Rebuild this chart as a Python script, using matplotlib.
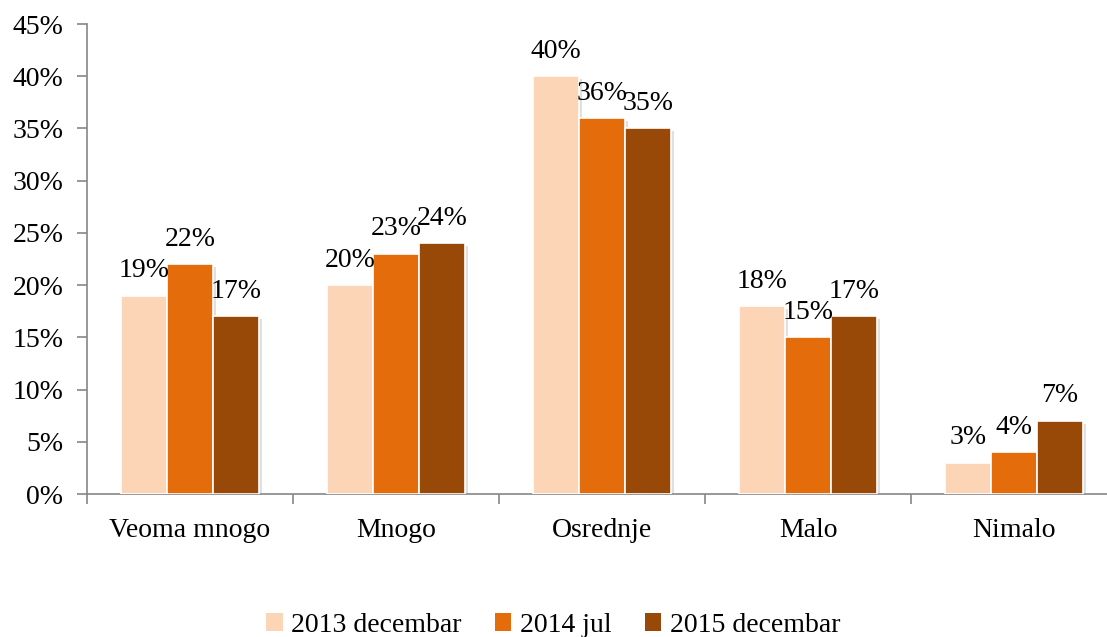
import matplotlib
matplotlib.use("Agg")
import matplotlib.pyplot as plt
import matplotlib.patheffects as pe
import numpy as np

categories = ["Veoma mnogo", "Mnogo", "Osrednje", "Malo", "Nimalo"]
series_names = ["2013 decembar", "2014 jul", "2015 decembar"]
v2013 = [19, 20, 40, 18, 3]
v2014 = [22, 23, 36, 15, 4]
v2015 = [17, 24, 35, 17, 7]
yticks = [0, 5, 10, 15, 20, 25, 30, 35, 40, 45]

colors = ["#FBD5B5", "#E46C0A", "#984807"]
axis_color = "#868686"

plt.rcParams['font.family'] = ['Liberation Serif', 'DejaVu Serif']

fig = plt.figure(figsize=(11.07, 6.37), dpi=100)
ax = fig.add_axes([87/1107, 1-494/637, 5*206/1107, (494-24)/637])

x = np.arange(len(categories))
w = 0.223
shadow = [pe.SimplePatchShadow(offset=(2, -2), shadow_rgbFace="#999999", alpha=0.3), pe.Normal()]
for i, (vals, name) in enumerate(zip([v2013, v2014, v2015], series_names)):
    bars = ax.bar(x + (i - 1) * w, vals, width=w, color=colors[i], edgecolor="white",
                  linewidth=1.2, label=name, zorder=3)
    for b in bars:
        b.set_path_effects(shadow)
    for xi, v in zip(x + (i - 1) * w, vals):
        ax.annotate(f"{v}%", (xi, v), xytext=(0, 9), textcoords="offset points",
                    ha="center", va="bottom", fontsize=20, color="black", zorder=5)

ax.set_xlim(-0.5, len(categories) - 0.5)
ax.set_ylim(0, 45)
ax.set_yticks(yticks)
ax.set_yticklabels([f"{t}%" for t in yticks], fontsize=20)
ax.set_xticks(x)
ax.set_xticklabels(categories, fontsize=20)
ax.set_xticks(np.arange(-0.5, len(categories) + 0.5, 1), minor=True)
ax.tick_params(axis="x", which="major", length=0, pad=17)
ax.tick_params(axis="x", which="minor", length=7, color=axis_color, width=1.2, direction="out")
ax.tick_params(axis="y", length=7, color=axis_color, width=1.2, direction="out", pad=10)

for s in ["top", "right"]:
    ax.spines[s].set_visible(False)
for s in ["left", "bottom"]:
    ax.spines[s].set_color(axis_color)
    ax.spines[s].set_linewidth(1.2)

handles, labels = ax.get_legend_handles_labels()
leg = fig.legend(handles, labels, loc="center", bbox_to_anchor=(553/1107, 1-625/637),
                 ncol=3, frameon=False, fontsize=20, handlelength=0.6, handleheight=0.6,
                 handletextpad=0.3, columnspacing=1.2)
for h in leg.legend_handles:
    h.set_path_effects([])
    h.set_edgecolor("none")

fig.savefig("out.png", dpi=100)
